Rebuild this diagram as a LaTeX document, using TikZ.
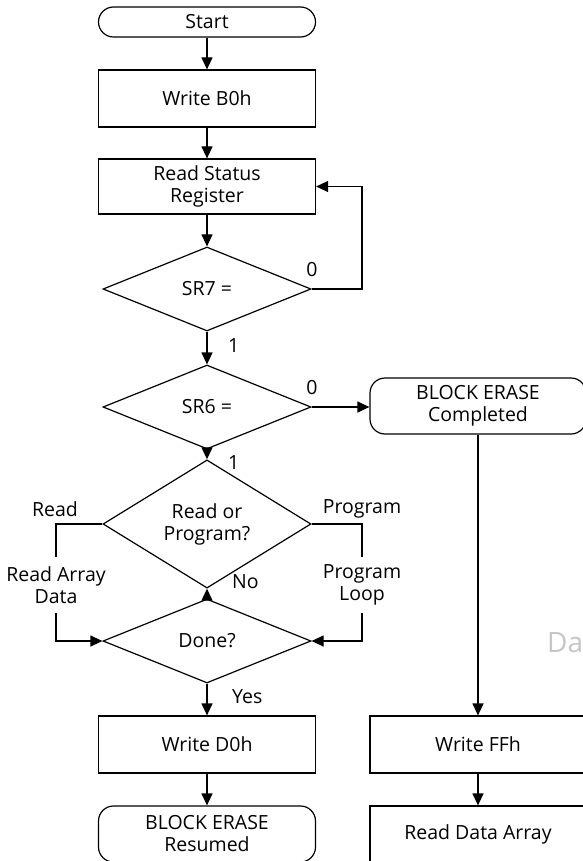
\documentclass[tikz,border=0pt]{standalone}
\usepackage{fontspec}
\setmainfont{Open Sans}
\usetikzlibrary{shapes.geometric,arrows.meta}

\tikzset{
  box/.style = {draw, line width=1.2pt, minimum width=217pt, minimum height=57pt, inner sep=0pt, align=center},
  term/.style = {box, rounded corners=15pt},
  decision/.style = {draw, line width=1.2pt, diamond, minimum width=208pt, minimum height=84pt, inner sep=0pt, align=center},
  arr/.style = {line width=1.2pt, -{Triangle[length=12pt,width=11pt]}},
  line/.style = {line width=1.2pt},
  lbl/.style = {inner sep=0pt, align=center}
}

\begin{document}
\begin{tikzpicture}[x=1pt,y=-1pt,font=\fontsize{19.5}{22}\selectfont]
\useasboundingbox (0,0) rectangle (582,861);
% main column
\node[term, minimum height=30pt] (start) at (207,22) {Start};
\node[box] (b0) at (207,98.5) {Write B0h};
\node[box, minimum height=55pt] (rsr) at (207,186.5) {Read Status\\Register};
\node[decision] (sr7) at (207,289) {SR7 =};
\node[decision] (sr6) at (207,407) {SR6 =};
\node[decision] (rp) at (207,524) {Read or\\Program?};
\node[decision] (done) at (207,641) {Done?};
\node[box] (d0) at (207,744.5) {Write D0h};
\node[term, minimum height=56pt] (resumed) at (207,834) {BLOCK ERASE\\Resumed};
% right column
\node[term, minimum width=216pt, minimum height=56pt] (completed) at (478,406) {BLOCK ERASE\\Completed};
\node[box, minimum width=216pt] (ffh) at (478,744.5) {Write FFh};
\node[box, minimum width=216pt, minimum height=56pt] (rda) at (478,834) {Read Data Array};
% labels
\node[lbl] (zero7) at (312,270) {0};
\node[lbl] (zero6) at (312,388) {0};
\node[lbl, anchor=west] (one7) at (228,346) {1};
\node[lbl, anchor=west] (one6) at (228,463) {1};
\node[lbl, anchor=west] (no) at (232,582) {No};
\node[lbl, anchor=west] (yes) at (232,697) {Yes};
\node[lbl] (rd) at (55,509) {Read};
\node[lbl] (pg) at (362,509) {Program};
\node[lbl, minimum height=56pt] (rad) at (56,585) {Read Array\\Data};
\node[lbl, minimum height=56pt] (ploop) at (362,585) {Program\\Loop};
\node[lbl, anchor=west, text=gray!45, font=\fontsize{28}{30}\selectfont] (wm) at (547,643) {Dat};
% connectors
\draw[arr] (start) -- (b0);
\draw[arr] (b0) -- (rsr);
\draw[arr] (rsr) -- (sr7);
\coordinate (loop7) at (362,289);
\draw[arr] (sr7.east) -- (loop7) |- (rsr.east);
\draw[arr] (sr7) -- (sr6);
\draw[arr] (sr6.east) -- (sr6.east -| completed.west);
\draw[arr] (sr6) -- (rp);
\draw[line] (rp.west) -| (rad.north);
\draw[arr] (rad.south) |- (done.west);
\draw[line] (rp.east) -| (ploop.north);
\draw[arr] (ploop.south) |- (done.east);
\draw[arr] (done) -- (rp);
\draw[arr] (done) -- (d0);
\draw[arr] (d0) -- (resumed);
\draw[arr] (completed) -- (ffh);
\draw[arr] (ffh) -- (rda);
\end{tikzpicture}
\end{document}
